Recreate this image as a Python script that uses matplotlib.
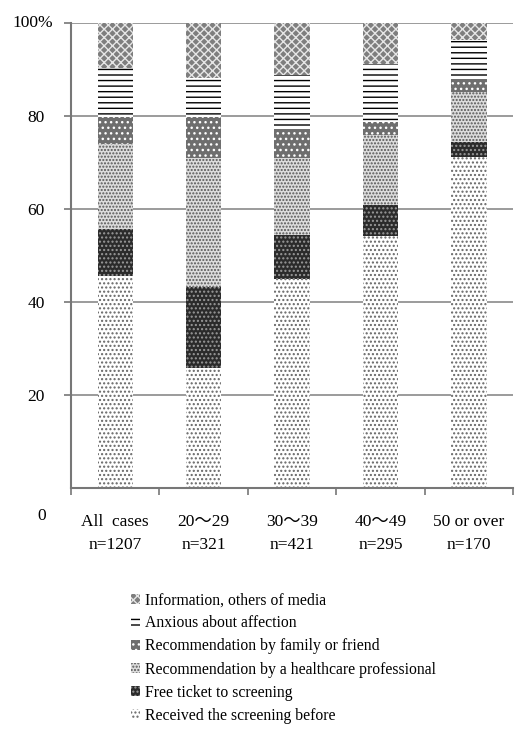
import numpy as np
import matplotlib
matplotlib.use("Agg")
import matplotlib.pyplot as plt
from matplotlib.patches import Patch

plt.rcParams['font.family'] = ['Liberation Serif', 'Noto Sans CJK JP']
plt.rcParams['font.size'] = 12.5
plt.rcParams['hatch.linewidth'] = 1.0

# --- data (percent of respondents) ---
groups = ['All  cases', '20\uff5e29', '30\uff5e39', '40\uff5e49', '50 or over']
n_labels = ['n=1207', 'n=321', 'n=421', 'n=295', 'n=170']

received   = [45.6, 25.8, 44.9, 54.2, 71.2]
free_ticket = [10.1, 17.4, 9.5, 6.7, 3.2]
healthcare = [18.3, 27.8, 16.6, 15.0, 10.8]
family     = [5.8, 8.8, 6.2, 2.8, 2.8]
anxious    = [10.5, 8.4, 11.6, 12.5, 8.3]
information = [9.7, 11.8, 11.2, 8.8, 3.7]

series = [received, free_ticket, healthcare, family, anxious, information]
names = ['Received the screening before', 'Free ticket to screening',
         'Recommendation by a healthcare professional',
         'Recommendation by family or friend', 'Anxious about affection',
         'Information, others of media']
# (facecolor, hatch, hatch colour)
styles = [('white', '....', '#666666'),
          ('#2b2b2b', '....', '#9a9a9a'),
          ('#dcdcdc', '.....', '#555555'),
          ('#6e6e6e', '...', 'white'),
          ('white', '---', 'black'),
          ('#7e7e7e', 'xxxx', '#e6e6e6')]

fig = plt.figure(figsize=(5.22, 7.34), dpi=100)
ax = fig.add_axes([0.136, 0.335, 0.847, 0.634])

x = np.arange(len(groups))
bottom = np.zeros(len(groups))
for vals, name, (fc, h, hc) in zip(series, names, styles):
    ax.bar(x, vals, 0.4, bottom=bottom, color=fc, hatch=h, edgecolor=hc,
           linewidth=0, label=name, zorder=2)
    bottom += np.array(vals)

ax.set_xlim(-0.5, len(groups) - 0.5)
ax.set_ylim(0, 100)
ax.set_yticks([20, 40, 60, 80, 100])
ax.set_yticklabels(['20', '40', '60', '80', ''])
ax.yaxis.grid(True, color='#8a8a8a', linewidth=1.2, zorder=0)
ax.set_axisbelow(True)
ax.text(-0.041, 1.0, '100%', transform=ax.transAxes, ha='right', va='center')

ax.set_xticks(x)
ax.set_xticklabels([g + '\n' + n for g, n in zip(groups, n_labels)], linespacing=1.55)
ax.set_xticks(np.arange(-0.5, len(groups)), minor=True)
ax.tick_params(axis='x', which='major', length=0, pad=19)
ax.tick_params(axis='x', which='minor', length=5, color='#777777', width=1.2)
ax.tick_params(axis='y', length=5, color='#777777', width=1.2, pad=14)

for s in ['top', 'right']:
    ax.spines[s].set_visible(False)
for s in ['left', 'bottom']:
    ax.spines[s].set_color('#777777')
    ax.spines[s].set_linewidth(1.5)

ax.text(-0.066, -0.06, '0', transform=ax.transAxes, ha='center', va='center')

handles = [Patch(facecolor=fc, hatch=h, edgecolor=hc, linewidth=0)
           for fc, h, hc in styles][::-1]
fig.legend(handles, names[::-1], loc='upper left', bbox_to_anchor=(0.25, 0.193),
           frameon=False, fontsize=11.3, handlelength=0.6, handleheight=0.6,
           handletextpad=0.3, labelspacing=0.45, borderaxespad=0, borderpad=0)

fig.savefig('out.png', dpi=100)
